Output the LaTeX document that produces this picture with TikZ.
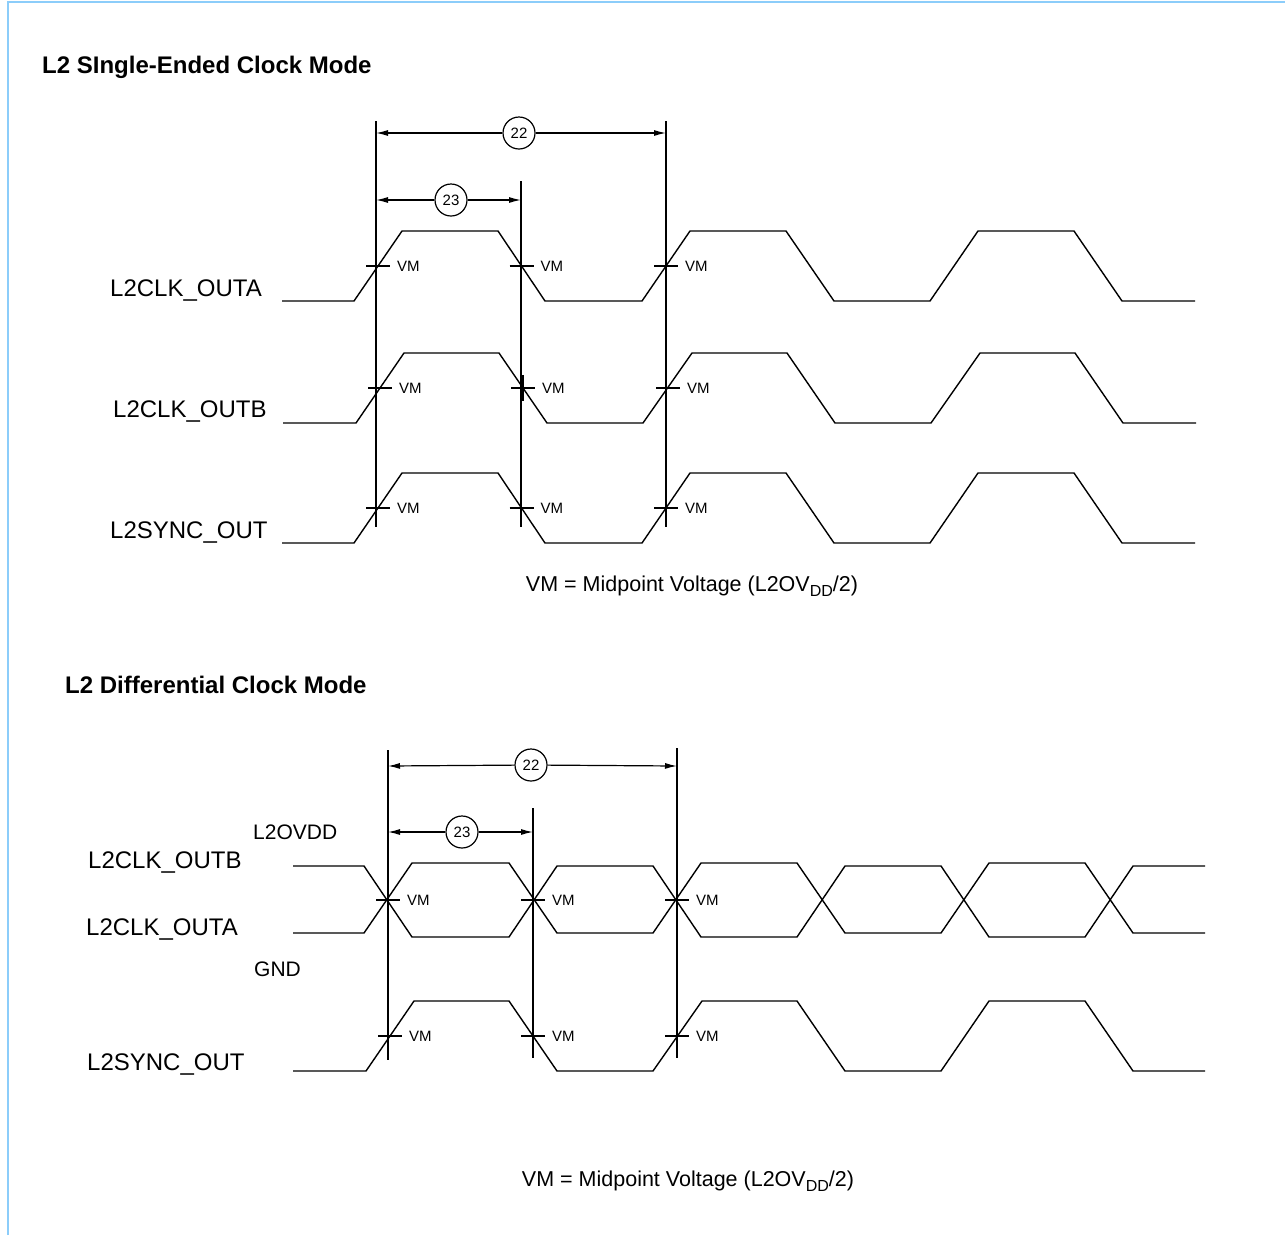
\documentclass[tikz,border=0pt]{standalone}
\usepackage{fontspec}
\setmainfont{Liberation Sans}
\usetikzlibrary{arrows.meta}
\definecolor{bordercol}{RGB}{140,205,250}
\newcommand\vmmark[3]{%
  \draw[tick] (#1-12,#2) -- (#1+12,#2);
  \node[vm] (#3) at (#1+19,#2+5.5) {VM};}
\newcommand\ddsub{\raisebox{-5pt}{\fontsize{16}{18}\selectfont DD}}
\begin{document}
\begin{tikzpicture}[x=1pt,y=-1pt,
  sig/.style={line width=1.4pt, line join=miter},
  vline/.style={line width=1.4pt},
  tick/.style={line width=1.4pt},
  dimarrow/.style={line width=1.2pt,-{Latex[length=12pt,width=6pt]}},
  num/.style={circle, draw, line width=1.2pt, minimum size=32pt, inner sep=0pt, font=\fontsize{15}{17}\selectfont, fill=white},
  vm/.style={anchor=base west, inner sep=0pt, font=\fontsize{15}{17}\selectfont},
  lab/.style={anchor=base west, inner sep=0pt, font=\fontsize{24}{28}\selectfont},
  slab/.style={anchor=base west, inner sep=0pt, font=\fontsize{21}{24}\selectfont},
  ttl/.style={anchor=base west, inner sep=0pt, font=\fontsize{24}{28}\selectfont\bfseries},
  note/.style={anchor=base, inner sep=0pt, font=\fontsize{21.5}{24}\selectfont}]
\useasboundingbox (0,0) rectangle (1285,1235);
% border
\draw[bordercol, line width=2pt] (8,1235) -- (8,2) -- (1285,2);

% ================= Single-ended =================
\node[ttl] (t1) at (42,73) {L2 SIngle-Ended Clock Mode};

\coordinate (s1t) at (376,121); \coordinate (s1b) at (376,527);
\coordinate (s2t) at (521,181); \coordinate (s2b) at (521,527);
\coordinate (s3t) at (666,121); \coordinate (s3b) at (666,527);
\draw[vline] (s1t) -- (s1b);
\draw[vline] (s2t) -- (s2b);
\draw[vline] (s3t) -- (s3b);

\node[num] (sc22) at (519,133) {22};
\coordinate (s22l) at (376,133); \coordinate (s22r) at (666,133);
\draw[dimarrow] (sc22) -- (s22l);
\draw[dimarrow] (sc22) -- (s22r);
\node[num] (sc23) at (451,200) {23};
\coordinate (s23l) at (376,200); \coordinate (s23r) at (521,200);
\draw[dimarrow] (sc23) -- (s23l);
\draw[dimarrow] (sc23) -- (s23r);

\node[lab] (la) at (110,296.5) {L2CLK\_OUTA};
\node[lab] (lb) at (113,417.5) {L2CLK\_OUTB};
\node[lab] (lc) at (110,538.5) {L2SYNC\_OUT};

\draw[sig] (282,301) -- (354,301) -- (402,231) -- (498,231) -- (545,301) -- (642,301) -- (690,231) -- (786,231) -- (834,301) -- (930,301) -- (978,231) -- (1074,231) -- (1122,301) -- (1195,301);
\draw[sig] (283,423) -- (356,423) -- (404,353) -- (499,353) -- (547,423) -- (643,423) -- (692,353) -- (787,353) -- (835,423) -- (931,423) -- (980,353) -- (1075,353) -- (1123,423) -- (1196,423);
\draw[sig] (282,543) -- (354,543) -- (402,473) -- (498,473) -- (545,543) -- (642,543) -- (690,473) -- (786,473) -- (834,543) -- (930,543) -- (978,473) -- (1074,473) -- (1122,543) -- (1195,543);

\vmmark{378}{266}{va1}
\vmmark{521.5}{266}{va2}
\vmmark{666}{266}{va3}
\vmmark{380}{388}{vb1}
\vmmark{523}{388}{vb2}
\draw[tick] (523,375) -- (523,401);
\vmmark{668}{388}{vb3}
\vmmark{378}{508}{vc1}
\vmmark{521.5}{508}{vc2}
\vmmark{666}{508}{vc3}

\node[note] (n1) at (692,591) {VM = Midpoint Voltage (L2OV\ddsub/2)};

% ================= Differential =================
\node[ttl] (t2) at (65,693.5) {L2 Differential Clock Mode};

\coordinate (d1t) at (388,750); \coordinate (d1b) at (388,1060);
\coordinate (d2t) at (533,808); \coordinate (d2b) at (533,1058);
\coordinate (d3t) at (677,748); \coordinate (d3b) at (677,1058);
\draw[vline] (d1t) -- (d1b);
\draw[vline] (d2t) -- (d2b);
\draw[vline] (d3t) -- (d3b);

\node[num] (dc22) at (531,765) {22};
\coordinate (d22l) at (388,766); \coordinate (d22r) at (677,766);
\draw[dimarrow] (dc22) -- (d22l);
\draw[dimarrow] (dc22) -- (d22r);
\node[num] (dc23) at (462,832) {23};
\coordinate (d23l) at (388,832); \coordinate (d23r) at (533,832);
\draw[dimarrow] (dc23) -- (d23l);
\draw[dimarrow] (dc23) -- (d23r);

\node[slab] (lvdd) at (253,839) {L2OVDD};
\node[lab] (ldb) at (88,868) {L2CLK\_OUTB};
\node[lab] (lda) at (86,935) {L2CLK\_OUTA};
\node[slab] (lgnd) at (254,976) {GND};
\node[lab] (ldc) at (87,1070.5) {L2SYNC\_OUT};

% L2CLK_OUTB
\draw[sig] (293,866) -- (364,866) -- (412,937) -- (509,937) -- (557,866) -- (653,866) -- (701,937) -- (797,937) -- (845,866) -- (941,866) -- (989,937) -- (1085,937) -- (1133,866) -- (1205,866);
% L2CLK_OUTA
\draw[sig] (293,933) -- (364,933) -- (412,863) -- (509,863) -- (557,933) -- (653,933) -- (701,863) -- (797,863) -- (845,933) -- (941,933) -- (989,863) -- (1085,863) -- (1133,933) -- (1205,933);
% L2SYNC_OUT
\draw[sig] (293,1071) -- (366,1071) -- (414,1001) -- (509,1001) -- (557,1071) -- (653,1071) -- (702,1001) -- (797,1001) -- (845,1071) -- (941,1071) -- (989,1001) -- (1085,1001) -- (1133,1071) -- (1205,1071);

\vmmark{388}{900}{vd1}
\vmmark{533}{900}{vd2}
\vmmark{677}{900}{vd3}
\vmmark{390}{1036}{ve1}
\vmmark{533}{1036}{ve2}
\vmmark{677}{1036}{ve3}

\node[note] (n2) at (688,1186) {VM = Midpoint Voltage (L2OV\ddsub/2)};
\end{tikzpicture}
\end{document}
